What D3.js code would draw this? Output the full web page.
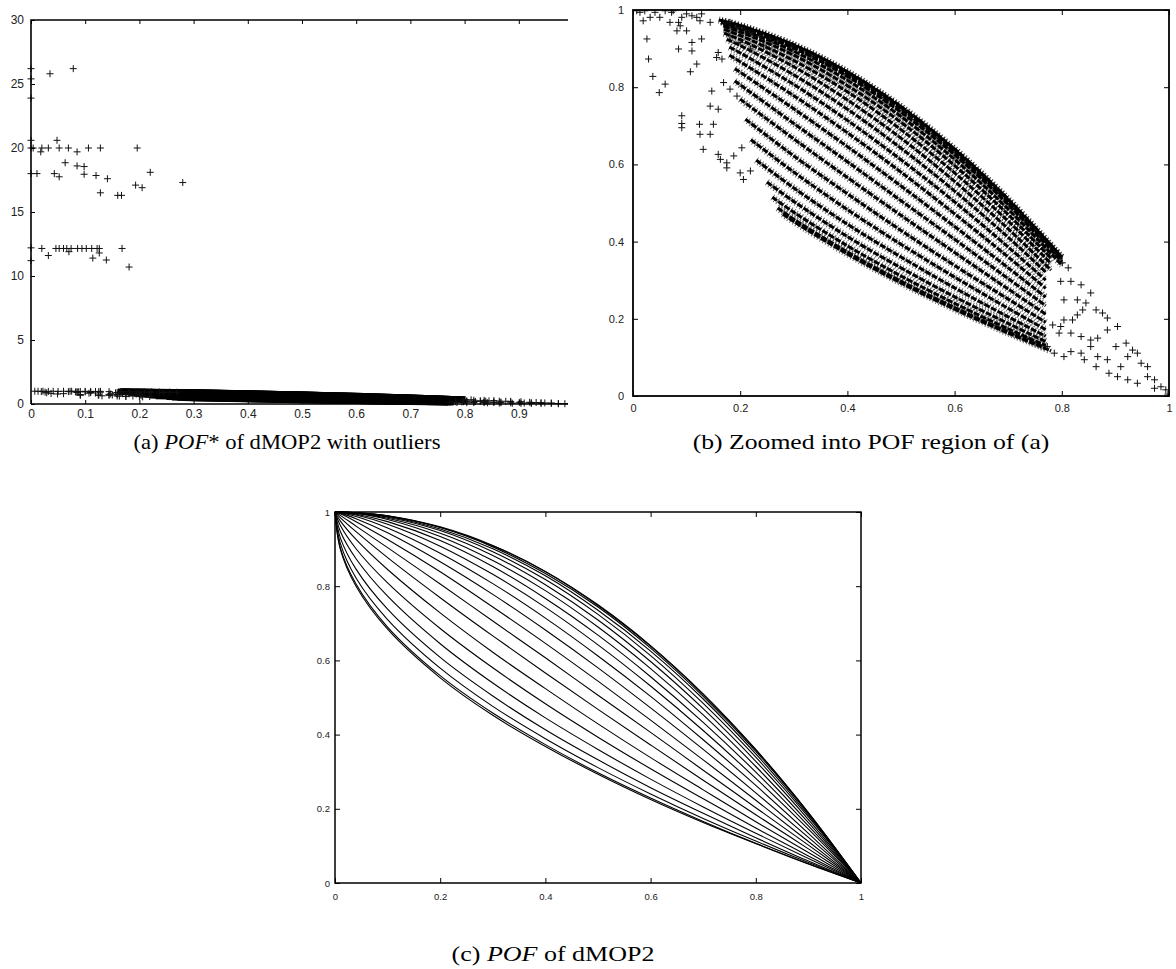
<!DOCTYPE html>
<html lang="en">
<head>
<meta charset="UTF-8" />
<title>dMOP2 POF</title>
<style>
  body { margin: 0; background: #fff; }
  .tick text { fill: #222; }
  .tick line { stroke: #000; }
  .caption { font-family: "Liberation Serif", "Times New Roman", serif; font-size: 22px; fill: #000; }
</style>
<script src="https://cdn.jsdelivr.net/npm/d3@7"></script>
</head>
<body>
<svg id="fig" width="1176" height="969"></svg>
<script>
// ---- tick values ----
const aXTicks = [0, 0.1, 0.2, 0.3, 0.4, 0.5, 0.6, 0.7, 0.8, 0.9];
const aYTicks = [0, 5, 10, 15, 20, 25, 30];
const unitTicks = [0, 0.2, 0.4, 0.6, 0.8, 1];

// ---- (a) outliers ----
const outliers = [
  [0.035, 25.8], [0.078, 26.2], [0.048, 20.6],
  [0.004, 20.0], [0.020, 20.0], [0.032, 20.0], [0.052, 20.0], [0.069, 20.0], [0.106, 20.0], [0.128, 20.0], [0.196, 20.0],
  [0.018, 19.7], [0.085, 19.7], [0.063, 18.85], [0.085, 18.6], [0.098, 18.55], [0.011, 18.0], [0.043, 18.0],
  [0.052, 17.75], [0.098, 17.95], [0.12, 17.85], [0.141, 17.6], [0.128, 16.5], [0.16, 16.3], [0.167, 16.3],
  [0.193, 17.1], [0.205, 16.9], [0.22, 18.1], [0.28, 17.3],
  [0.020, 12.15], [0.046, 12.15], [0.052, 12.15], [0.060, 12.15], [0.066, 12.15], [0.074, 12.15], [0.086, 12.15],
  [0.094, 12.15], [0.102, 12.15], [0.112, 12.15], [0.122, 12.15], [0.126, 12.15], [0.168, 12.15],
  [0.070, 11.9], [0.032, 11.6], [0.114, 11.4], [0.126, 11.8], [0.139, 11.25], [0.181, 10.7],
  [0, 26.2], [0, 25.4], [0, 23.9], [0, 20.6], [0, 20.0], [0, 18.0], [0, 12.2], [0, 11.2]
];

// ---- POF* dense strands (x, f2) ----
const strands = [
  [[0.28, 0.471], [0.3, 0.452], [0.4, 0.368], [0.5, 0.293], [0.6, 0.225], [0.7, 0.163], [0.78, 0.117]],
  [[0.27, 0.487], [0.3, 0.458], [0.4, 0.373], [0.5, 0.297], [0.6, 0.229], [0.7, 0.166], [0.77, 0.125]],
  [[0.26, 0.515], [0.3, 0.476], [0.4, 0.389], [0.5, 0.311], [0.6, 0.240], [0.7, 0.174], [0.77, 0.131]],
  [[0.25, 0.554], [0.3, 0.504], [0.4, 0.413], [0.5, 0.332], [0.6, 0.257], [0.7, 0.188], [0.77, 0.141]],
  [[0.23, 0.611], [0.3, 0.539], [0.4, 0.445], [0.5, 0.360], [0.6, 0.280], [0.7, 0.205], [0.77, 0.155]],
  [[0.22, 0.664], [0.3, 0.580], [0.4, 0.483], [0.5, 0.393], [0.6, 0.308], [0.7, 0.227], [0.77, 0.172]],
  [[0.21, 0.717], [0.3, 0.622], [0.4, 0.524], [0.5, 0.429], [0.6, 0.338], [0.7, 0.251], [0.77, 0.191]],
  [[0.2, 0.769], [0.3, 0.666], [0.4, 0.566], [0.5, 0.468], [0.6, 0.372], [0.7, 0.277], [0.77, 0.212]],
  [[0.19, 0.816], [0.3, 0.706], [0.4, 0.607], [0.5, 0.506], [0.6, 0.406], [0.7, 0.304], [0.77, 0.234]],
  [[0.19, 0.848], [0.3, 0.744], [0.4, 0.646], [0.5, 0.544], [0.6, 0.439], [0.7, 0.332], [0.77, 0.256]],
  [[0.18, 0.883], [0.2, 0.866], [0.3, 0.778], [0.4, 0.682], [0.5, 0.580], [0.6, 0.472], [0.7, 0.360], [0.77, 0.279]],
  [[0.18, 0.904], [0.2, 0.889], [0.3, 0.807], [0.4, 0.714], [0.5, 0.612], [0.6, 0.503], [0.7, 0.386], [0.77, 0.300]],
  [[0.175, 0.924], [0.2, 0.908], [0.3, 0.832], [0.4, 0.743], [0.5, 0.642], [0.6, 0.531], [0.7, 0.411], [0.77, 0.321]],
  [[0.17, 0.940], [0.2, 0.923], [0.3, 0.853], [0.4, 0.767], [0.5, 0.668], [0.6, 0.556], [0.7, 0.433], [0.78, 0.326]],
  [[0.17, 0.950], [0.2, 0.934], [0.3, 0.869], [0.4, 0.788], [0.5, 0.690], [0.6, 0.578], [0.7, 0.453], [0.78, 0.343]],
  [[0.17, 0.957], [0.2, 0.943], [0.3, 0.883], [0.4, 0.804], [0.5, 0.709], [0.6, 0.597], [0.7, 0.470], [0.78, 0.357]],
  [[0.17, 0.963], [0.2, 0.950], [0.3, 0.893], [0.4, 0.818], [0.5, 0.724], [0.6, 0.613], [0.7, 0.484], [0.8, 0.339]],
  [[0.165, 0.968], [0.2, 0.954], [0.3, 0.901], [0.4, 0.828], [0.5, 0.735], [0.6, 0.625], [0.7, 0.496], [0.8, 0.348]],
  [[0.165, 0.971], [0.2, 0.958], [0.3, 0.906], [0.4, 0.834], [0.5, 0.744], [0.6, 0.633], [0.7, 0.503], [0.8, 0.355]],
  [[0.165, 0.972], [0.2, 0.959], [0.3, 0.909], [0.4, 0.839], [0.5, 0.748], [0.6, 0.638], [0.7, 0.508], [0.8, 0.359]],
  [[0.16, 0.974], [0.2, 0.960], [0.3, 0.910], [0.4, 0.840], [0.5, 0.750], [0.6, 0.640], [0.7, 0.510], [0.8, 0.360]]
];

// ---- POF* sparse points ----
const sparsePts = [
  [0.013, 0.994], [0.022, 0.998], [0.032, 0.981], [0.041, 0.994], [0.050, 0.981], [0.060, 0.998], [0.072, 0.994],
  [0.075, 0.998], [0.085, 0.968], [0.091, 0.981], [0.100, 0.990], [0.110, 0.985], [0.119, 0.981], [0.125, 0.972],
  [0.128, 0.990], [0.144, 0.968], [0.088, 0.959], [0.082, 0.946], [0.069, 0.968], [0.100, 0.946], [0.007, 0.998],
  [0.019, 0.972], [0.026, 0.925], [0.029, 0.873], [0.037, 0.828], [0.049, 0.786], [0.060, 0.808],
  [0.085, 0.899], [0.110, 0.916], [0.110, 0.894], [0.128, 0.925], [0.119, 0.860], [0.107, 0.840],
  [0.091, 0.726], [0.091, 0.706], [0.091, 0.695], [0.124, 0.704], [0.150, 0.704], [0.125, 0.678], [0.144, 0.678],
  [0.131, 0.639], [0.159, 0.626], [0.163, 0.613], [0.175, 0.604], [0.175, 0.591], [0.188, 0.622], [0.203, 0.643],
  [0.219, 0.583], [0.200, 0.578], [0.206, 0.561], [0.159, 0.890], [0.156, 0.877], [0.166, 0.873], [0.147, 0.790],
  [0.144, 0.751], [0.159, 0.743], [0.181, 0.795], [0.194, 0.777], [0.169, 0.812], [0.169, 0.964], [0.181, 0.968],
  [0.194, 0.955], [0.209, 0.946], [0.222, 0.942], [0.237, 0.933], [0.181, 0.933], [0.200, 0.916], [0.219, 0.899],
  [0.244, 0.907], [0.256, 0.925], [0.269, 0.920],
  [0.801, 0.345], [0.812, 0.332], [0.798, 0.297], [0.817, 0.297], [0.836, 0.288], [0.804, 0.249], [0.829, 0.249],
  [0.854, 0.267], [0.845, 0.241], [0.864, 0.223], [0.839, 0.223], [0.829, 0.210], [0.820, 0.197], [0.876, 0.215],
  [0.885, 0.202], [0.804, 0.197], [0.783, 0.184], [0.798, 0.180], [0.795, 0.163], [0.817, 0.163], [0.836, 0.154],
  [0.854, 0.145], [0.867, 0.150], [0.885, 0.171], [0.904, 0.180], [0.854, 0.128], [0.836, 0.111], [0.817, 0.115],
  [0.804, 0.102], [0.842, 0.094], [0.864, 0.076], [0.885, 0.094], [0.901, 0.128], [0.920, 0.137], [0.932, 0.119],
  [0.941, 0.111], [0.923, 0.102], [0.948, 0.085], [0.960, 0.076], [0.910, 0.076], [0.888, 0.059], [0.904, 0.050],
  [0.923, 0.042], [0.941, 0.033], [0.960, 0.050], [0.973, 0.042], [0.985, 0.024], [0.994, 0.016], [0.973, 0.020],
  [0.998, 0.005], [0.867, 0.102], [0.773, 0.128], [0.786, 0.111]
];

// ---- (c) true POF: f1 samples and one f2 row per time step ----
const pofX = [0, 0.01, 0.04, 0.1, 0.2, 0.3, 0.4, 0.5, 0.6, 0.7, 0.8, 0.9, 1];
const pofCurves = [
  [1, 0.900, 0.800, 0.684, 0.553, 0.452, 0.368, 0.293, 0.225, 0.163, 0.106, 0.051, 0],
  [1, 0.904, 0.806, 0.690, 0.559, 0.458, 0.373, 0.297, 0.229, 0.166, 0.107, 0.052, 0],
  [1, 0.916, 0.822, 0.710, 0.579, 0.476, 0.389, 0.311, 0.240, 0.174, 0.113, 0.055, 0],
  [1, 0.931, 0.846, 0.738, 0.608, 0.504, 0.413, 0.332, 0.257, 0.188, 0.122, 0.059, 0],
  [1, 0.948, 0.874, 0.773, 0.645, 0.539, 0.445, 0.360, 0.280, 0.205, 0.134, 0.066, 0],
  [1, 0.964, 0.901, 0.809, 0.686, 0.580, 0.483, 0.393, 0.308, 0.227, 0.148, 0.073, 0],
  [1, 0.976, 0.926, 0.845, 0.728, 0.622, 0.524, 0.429, 0.338, 0.251, 0.165, 0.082, 0],
  [1, 0.985, 0.947, 0.877, 0.769, 0.666, 0.566, 0.468, 0.372, 0.277, 0.184, 0.092, 0],
  [1, 0.991, 0.962, 0.904, 0.806, 0.706, 0.607, 0.506, 0.406, 0.304, 0.203, 0.102, 0],
  [1, 0.995, 0.974, 0.926, 0.839, 0.744, 0.646, 0.544, 0.439, 0.332, 0.223, 0.112, 0],
  [1, 0.997, 0.982, 0.944, 0.866, 0.778, 0.682, 0.580, 0.472, 0.360, 0.243, 0.123, 0],
  [1, 0.998, 0.988, 0.957, 0.889, 0.807, 0.714, 0.612, 0.503, 0.386, 0.263, 0.134, 0],
  [1, 0.999, 0.992, 0.967, 0.908, 0.832, 0.743, 0.642, 0.531, 0.411, 0.282, 0.145, 0],
  [1, 0.999, 0.994, 0.974, 0.923, 0.853, 0.767, 0.668, 0.556, 0.433, 0.299, 0.154, 0],
  [1, 1.000, 0.996, 0.980, 0.934, 0.869, 0.788, 0.690, 0.578, 0.453, 0.314, 0.163, 0],
  [1, 1.000, 0.997, 0.983, 0.943, 0.883, 0.804, 0.709, 0.597, 0.470, 0.328, 0.171, 0],
  [1, 1.000, 0.997, 0.986, 0.950, 0.893, 0.818, 0.724, 0.613, 0.484, 0.339, 0.178, 0],
  [1, 1.000, 0.998, 0.988, 0.954, 0.901, 0.828, 0.735, 0.625, 0.496, 0.348, 0.183, 0],
  [1, 1.000, 0.998, 0.989, 0.958, 0.906, 0.834, 0.744, 0.633, 0.503, 0.355, 0.187, 0],
  [1, 1.000, 0.998, 0.990, 0.959, 0.909, 0.839, 0.748, 0.638, 0.508, 0.359, 0.189, 0],
  [1, 1.000, 0.998, 0.990, 0.960, 0.910, 0.840, 0.750, 0.640, 0.510, 0.360, 0.190, 0]
];

const svg = d3.select('#fig');
const plus = 'M-3.5,0H3.5M0,-3.5V3.5';
const fmt = d3.format('~g');
const smooth = d3.curveCatmullRom.alpha(0.5);

function drawPlus(g, pts, x, y) {
  g.append('g').selectAll('path').data(pts).enter().append('path')
    .attr('d', plus)
    .attr('transform', d => `translate(${x(d[0])},${y(d[1])})`)
    .attr('stroke', '#111')
    .attr('stroke-width', 1)
    .attr('fill', 'none');
}

function styleAxis(s, fs) {
  s.attr('font-family', '"Liberation Sans", Arial, sans-serif').attr('font-size', fs);
  s.select('.domain').remove();
}

// ticks point inward on every side
function axes(g, x, y, o) {
  const [x0, x1] = x.range();
  const [y0, y1] = y.range();
  g.append('g').attr('transform', `translate(0,${y0})`)
    .call(d3.axisBottom(x).tickValues(o.xt).tickSize(-o.tk).tickSizeOuter(0).tickPadding(o.padX).tickFormat(fmt))
    .call(s => styleAxis(s, o.fs));
  g.append('g').attr('transform', `translate(${x0},0)`)
    .call(d3.axisLeft(y).tickValues(o.yt).tickSize(-o.tk).tickSizeOuter(0).tickPadding(o.padY).tickFormat(fmt))
    .call(s => styleAxis(s, o.fs));
  g.append('g').attr('transform', `translate(0,${y1})`)
    .call(d3.axisTop(x).tickValues(o.xt).tickSize(-o.tk).tickSizeOuter(0).tickFormat(''))
    .call(s => styleAxis(s, o.fs));
  if (o.right) {
    g.append('g').attr('transform', `translate(${x1},0)`)
      .call(d3.axisRight(y).tickValues(o.yt).tickSize(-o.tk).tickSizeOuter(0).tickFormat(''))
      .call(s => styleAxis(s, o.fs));
  }
}

// ================= (a) =================
const xA = d3.scaleLinear().domain([0, 1]).range([31, 573]);
const yA = d3.scaleLinear().domain([0, 30]).range([404, 20]);
const gA = svg.append('g');
gA.append('clipPath').attr('id', 'clipA').append('rect')
  .attr('x', 26).attr('y', 15).attr('width', 568 - 26).attr('height', 395);
const plotA = gA.append('g').attr('clip-path', 'url(#clipA)');
const lineA = d3.line().x(d => xA(d[0])).y(d => yA(d[1])).curve(smooth);
plotA.append('g').selectAll('path').data(strands).enter().append('path')
  .attr('d', lineA).attr('fill', 'none').attr('stroke', '#000').attr('stroke-width', 6);
drawPlus(plotA, sparsePts, xA, yA);
drawPlus(plotA, outliers, xA, yA);
axes(gA, xA, yA, { xt: aXTicks, yt: aYTicks, tk: 4, fs: 12, padX: 5, padY: 7, right: false });
gA.append('path')
  .attr('d', `M${xA(0)},${yA(0)}V${yA(30)}H568M${xA(0)},${yA(0)}H568`)
  .attr('fill', 'none').attr('stroke', '#000').attr('stroke-width', 1.6);

// ================= (b) =================
const xB = d3.scaleLinear().domain([0, 1]).range([633, 1169]);
const yB = d3.scaleLinear().domain([0, 1]).range([396, 10]);
const gB = svg.append('g');
gB.append('clipPath').attr('id', 'clipB').append('rect')
  .attr('x', 633).attr('y', 10).attr('width', 536).attr('height', 386);
const plotB = gB.append('g').attr('clip-path', 'url(#clipB)');
const lineB = d3.line().x(d => xB(d[0])).y(d => yB(d[1])).curve(smooth);
plotB.append('g').selectAll('path').data(strands).enter().append('path')
  .attr('d', lineB).attr('fill', 'none').attr('stroke', '#000').attr('stroke-width', 3)
  .attr('stroke-dasharray', '6 1.5');
plotB.append('g').selectAll('path').data(strands).enter().append('path')
  .attr('d', lineB).attr('fill', 'none').attr('stroke', '#000').attr('stroke-width', 7)
  .attr('stroke-dasharray', '1 2.2').attr('opacity', 0.6);
drawPlus(plotB, sparsePts, xB, yB);
axes(gB, xB, yB, { xt: unitTicks, yt: unitTicks, tk: 5, fs: 11, padX: 8, padY: 9, right: true });
gB.append('rect').attr('x', xB(0)).attr('y', yB(1))
  .attr('width', xB(1) - xB(0)).attr('height', yB(0) - yB(1))
  .attr('fill', 'none').attr('stroke', '#000').attr('stroke-width', 1.8);

// ================= (c) =================
const xC = d3.scaleLinear().domain([0, 1]).range([335, 861]);
const yC = d3.scaleLinear().domain([0, 1]).range([883, 512]);
const gC = svg.append('g');
const lineC = d3.line().x(d => xC(d[0])).y(d => yC(d[1])).curve(smooth);
gC.append('g').selectAll('path').data(pofCurves).enter().append('path')
  .attr('d', ys => lineC(ys.map((v, i) => [pofX[i], v])))
  .attr('fill', 'none').attr('stroke', '#000').attr('stroke-width', 1.1);
axes(gC, xC, yC, { xt: unitTicks, yt: unitTicks, tk: 5, fs: 9.5, padX: 10, padY: 5, right: true });
gC.append('rect').attr('x', xC(0)).attr('y', yC(1))
  .attr('width', xC(1) - xC(0)).attr('height', yC(0) - yC(1))
  .attr('fill', 'none').attr('stroke', '#000').attr('stroke-width', 1.5);

// ================= captions =================
function caption(cx, y, width, parts) {
  const t = svg.append('text').attr('class', 'caption')
    .attr('x', cx).attr('y', y).attr('text-anchor', 'middle');
  parts.forEach(p => {
    const s = t.append('tspan').text(p.t);
    if (p.i) s.attr('font-style', 'italic');
  });
  const w = t.node().getBBox().width;
  t.attr('transform', `translate(${cx},0) scale(${width / w},1) translate(${-cx},0)`);
}
caption(287, 449, 307, [{ t: '(a) ' }, { t: 'POF', i: true }, { t: '* of dMOP2 with outliers' }]);
caption(871, 449, 357, [{ t: '(b) Zoomed into POF region of (a)' }]);
caption(553, 961, 203, [{ t: '(c) ' }, { t: 'POF', i: true }, { t: ' of dMOP2' }]);
</script>
</body>
</html>
